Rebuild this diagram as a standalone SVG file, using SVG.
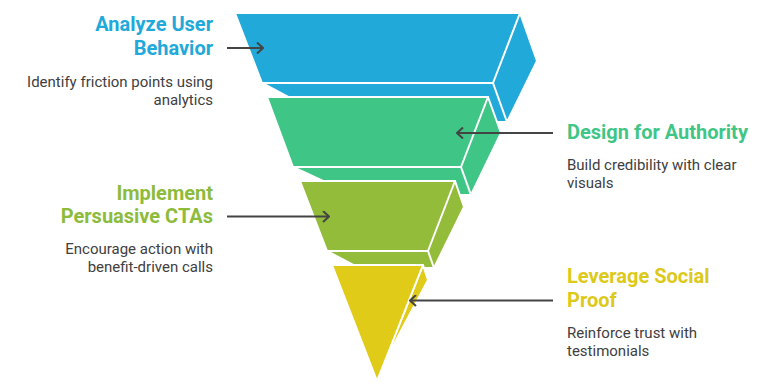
<svg xmlns="http://www.w3.org/2000/svg" width="780" height="390" viewBox="0 0 780 390">
<style>
.s{stroke:#fff;stroke-width:2;stroke-linejoin:round}
.w{stroke:#fff;stroke-width:2;fill:none}
.b{fill:#21A9D9}.g{fill:#3FC686}.l{fill:#93BC3A}.y{fill:#DFCB18}
.t{font-family:Roboto,"Liberation Sans",sans-serif;font-weight:bold;font-size:20px}
.d{font-family:Roboto,"Liberation Sans",sans-serif;font-size:15px;fill:#404040}
.r{text-anchor:end}
.c{stroke:#444;stroke-width:2;fill:none}
</style>
<defs>
<marker id="ah" viewBox="0 0 8 12" refX="7" refY="6" markerWidth="8" markerHeight="12" markerUnits="userSpaceOnUse" orient="auto">
<path d="M1,0.5 L7,6 L1,11.5" stroke="#444" stroke-width="2" fill="none"/>
</marker>
</defs>
<g id="level1">
<polygon class="s b" points="235,13 520,13 537,61 507,122 335,122 262,83"/>
<polygon class="s b" points="235,13 520,13 493,83 262,83"/>
<line class="w" x1="493" y1="83" x2="507" y2="122"/>
</g>
<g id="level2">
<polygon class="s g" points="267,97 488,97 501,133 471,195 353,195 293,167"/>
<polygon class="s g" points="267,97 488,97 461,167 293,167"/>
<line class="w" x1="461" y1="167" x2="471" y2="195"/>
</g>
<g id="level3">
<polygon class="s l" points="300,181 455,181 464,207 434,268 359,268 327,251"/>
<polygon class="s l" points="300,181 455,181 428,251 327,251"/>
<line class="w" x1="428" y1="251" x2="434" y2="268"/>
</g>
<g id="level4">
<polygon class="s y" points="423,265 428,280 385,361 377,381"/>
<polygon class="s y" points="332,265 423,265 377,381"/>
</g>
<g id="connectors">
<path class="c" d="M227,48 L263,48" marker-end="url(#ah)"/>
<path class="c" d="M553,133 L457,133" marker-end="url(#ah)"/>
<path class="c" d="M227,216.5 L329,216.5" marker-end="url(#ah)"/>
<path class="c" d="M553,300.5 L410,300.5" marker-end="url(#ah)"/>
</g>
<g id="label1">
<text class="t r" x="213" y="31" fill="#21A9D9">Analyze User</text>
<text class="t r" x="213" y="54.5" fill="#21A9D9">Behavior</text>
<text class="d r" x="213" y="87">Identify friction points using</text>
<text class="d r" x="213" y="105">analytics</text>
</g>
<g id="label2">
<text class="t" x="567" y="139" fill="#3FC686">Design for Authority</text>
<text class="d" x="567" y="170">Build credibility with clear</text>
<text class="d" x="567" y="188">visuals</text>
</g>
<g id="label3">
<text class="t r" x="213" y="199.5" fill="#8DBB3B">Implement</text>
<text class="t r" x="213" y="223" fill="#8DBB3B">Persuasive CTAs</text>
<text class="d r" x="213" y="253.5">Encourage action with</text>
<text class="d r" x="213" y="271.5">benefit-driven calls</text>
</g>
<g id="label4">
<text class="t" x="567" y="282.5" fill="#DCC91A">Leverage Social</text>
<text class="t" x="567" y="306.5" fill="#DCC91A">Proof</text>
<text class="d" x="567" y="338">Reinforce trust with</text>
<text class="d" x="567" y="356">testimonials</text>
</g>
</svg>
